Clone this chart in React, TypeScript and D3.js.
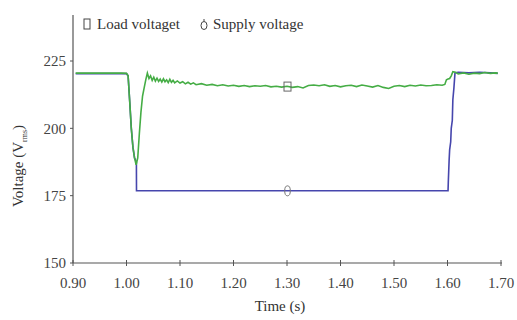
import React from "react";
import * as d3 from "d3";

const xTicks = [0.9, 1.0, 1.1, 1.2, 1.3, 1.4, 1.5, 1.6, 1.7];
const yTicks = [150, 175, 200, 225];

const supplyTime = [0.905, 0.95, 0.99, 1.0, 1.003, 1.006, 1.009, 1.012, 1.015, 1.018, 1.021, 1.024, 1.027, 1.03, 1.033, 1.036, 1.039, 1.042, 1.045, 1.048, 1.051, 1.054, 1.057, 1.06, 1.063, 1.066, 1.069, 1.072, 1.075, 1.078, 1.081, 1.084, 1.087, 1.09, 1.095, 1.1, 1.105, 1.11, 1.115, 1.12, 1.125, 1.13, 1.14, 1.15, 1.16, 1.17, 1.18, 1.19, 1.2, 1.21, 1.22, 1.23, 1.24, 1.25, 1.26, 1.27, 1.28, 1.29, 1.3, 1.31, 1.32, 1.33, 1.34, 1.35, 1.36, 1.37, 1.38, 1.39, 1.4, 1.41, 1.42, 1.43, 1.44, 1.45, 1.46, 1.47, 1.48, 1.49, 1.5, 1.51, 1.52, 1.53, 1.54, 1.55, 1.56, 1.57, 1.58, 1.59, 1.595, 1.598, 1.601, 1.604, 1.607, 1.61, 1.615, 1.62, 1.63, 1.64, 1.65, 1.66, 1.67, 1.68, 1.69, 1.694];
const supplyVolt = [220.5, 220.5, 220.5, 220.4, 219.5, 210, 200, 193, 189, 186.5, 189, 198, 206, 212, 215, 218, 220.5, 218.5, 219.5, 217.8, 219, 217.5, 218.6, 217.4, 218.3, 217.2, 218.4, 217.3, 218.0, 217.0, 218.2, 217.1, 217.8, 216.9, 217.6, 216.8, 217.3, 216.5, 217.1, 216.4, 216.9, 216.2, 216.6, 216.0, 216.3, 215.8, 216.2, 215.7, 216.0, 215.6, 215.9, 215.5, 215.8, 215.6, 215.9, 215.4, 215.6, 215.3, 215.6, 215.2, 215.5, 215.0, 215.9, 216.1, 215.8, 216.2, 215.6, 215.9, 215.4, 215.8, 216.0, 215.5, 216.1, 215.7, 215.3, 215.9, 215.2, 214.8, 215.6, 215.9, 215.5, 216.0, 215.7, 216.1, 215.8, 215.9, 216.2, 216.0, 216.3, 218, 218.3, 218.5, 219.5, 221, 220.8, 220.2, 220.6, 220.1, 220.5, 220.3, 220.7, 220.4, 220.6, 220.5];

const loadTime = [0.905, 1.0, 1.003, 1.006, 1.009, 1.012, 1.015, 1.0185, 1.0187, 1.3, 1.601, 1.6015, 1.603, 1.604, 1.606, 1.607, 1.609, 1.61, 1.612, 1.614, 1.62, 1.64, 1.66, 1.68, 1.694];
const loadVolt = [220.3, 220.3, 219.5, 210, 200, 193, 189, 187.5, 176.8, 176.8, 176.8, 180, 188, 192, 195, 200, 203, 210.6, 215, 220.6, 220.8, 220.6, 220.8, 220.6, 220.4];

const markerTime = [1.3];
const supplyMarkerVolt = [215.5];
const loadMarkerVolt = [176.8];

const legendLabels = ["Load voltaget", "Supply voltage"];

const GREEN = "#45ad45";
const BLUE = "#4646ad";
const AXIS = "#555";
const FONT = "Liberation Serif";

export default function App() {
  const x = d3.scaleLinear().domain([0.9, 1.7]).range([73, 501]);
  const y = d3.scaleLinear().domain([150, 225]).range([263, 61]);
  const line = d3
    .line<[number, number]>()
    .x((d) => x(d[0]))
    .y((d) => y(d[1]));
  const supply = supplyTime.map((t, i) => [t, supplyVolt[i]] as [number, number]);
  const load = loadTime.map((t, i) => [t, loadVolt[i]] as [number, number]);
  const y0 = y(150);
  const x0 = x(0.9);

  return (
    <svg width={517} height={320} style={{ position: "absolute", left: 0, top: 0, background: "#fff" }} fontFamily={FONT}>
      <line x1={x0} x2={x0} y1={15} y2={y0} stroke={AXIS} strokeWidth={1.2} />
      <line x1={x0} x2={x(1.7) + 1} y1={y0} y2={y0} stroke={AXIS} strokeWidth={1.2} />
      {yTicks.map((v) => (
        <g key={v}>
          <line x1={x0 - 3} x2={x0} y1={y(v)} y2={y(v)} stroke={AXIS} />
          <text x={x0 - 7} y={y(v)} dy="0.35em" textAnchor="end" fontSize={15} fill="#444">
            {v}
          </text>
        </g>
      ))}
      {xTicks.map((v) => (
        <g key={v}>
          <line x1={x(v)} x2={x(v)} y1={y0 - 3} y2={y0 + 3} stroke={AXIS} />
          <text x={x(v)} y={y0 + 20} dy="0.35em" textAnchor="middle" fontSize={15} fill="#444">
            {v.toFixed(2)}
          </text>
        </g>
      ))}
      <text x={280} y={306} dy="0.35em" textAnchor="middle" fontSize={15} fill="#333">
        Time (s)
      </text>
      <text transform={`translate(18,166) rotate(-90)`} textAnchor="middle" dy="0.35em" fontSize={15} fill="#333">
        Voltage (V
        <tspan fontSize={8} dy="4">rms</tspan>
        <tspan dy="-4">)</tspan>
      </text>

      <path d={line(load) ?? ""} fill="none" stroke={BLUE} strokeWidth={1.6} />
      <path d={line(supply) ?? ""} fill="none" stroke={GREEN} strokeWidth={1.6} />

      {markerTime.map((t, i) => (
        <g key={t}>
          <rect x={x(t) - 3} y={y(supplyMarkerVolt[i]) - 4.5} width={7} height={9} fill="none" stroke="#666" strokeWidth={1} />
          <ellipse cx={x(t) + 0.5} cy={y(loadMarkerVolt[i])} rx={2.8} ry={5} fill="none" stroke="#777" strokeWidth={1} />
        </g>
      ))}

      <rect x={84} y={19} width={6} height={10} fill="none" stroke="#444" strokeWidth={1} />
      <text x={97} y={24} dy="0.35em" fontSize={15} fill="#333">
        {legendLabels[0]}
      </text>
      <ellipse cx={204} cy={25.5} rx={3} ry={4} fill="none" stroke="#444" strokeWidth={1} />
      <line x1={204} x2={204} y1={19} y2={21.5} stroke="#444" />
      <text x={213} y={24} dy="0.35em" fontSize={15} fill="#333">
        {legendLabels[1]}
      </text>
    </svg>
  );
}
